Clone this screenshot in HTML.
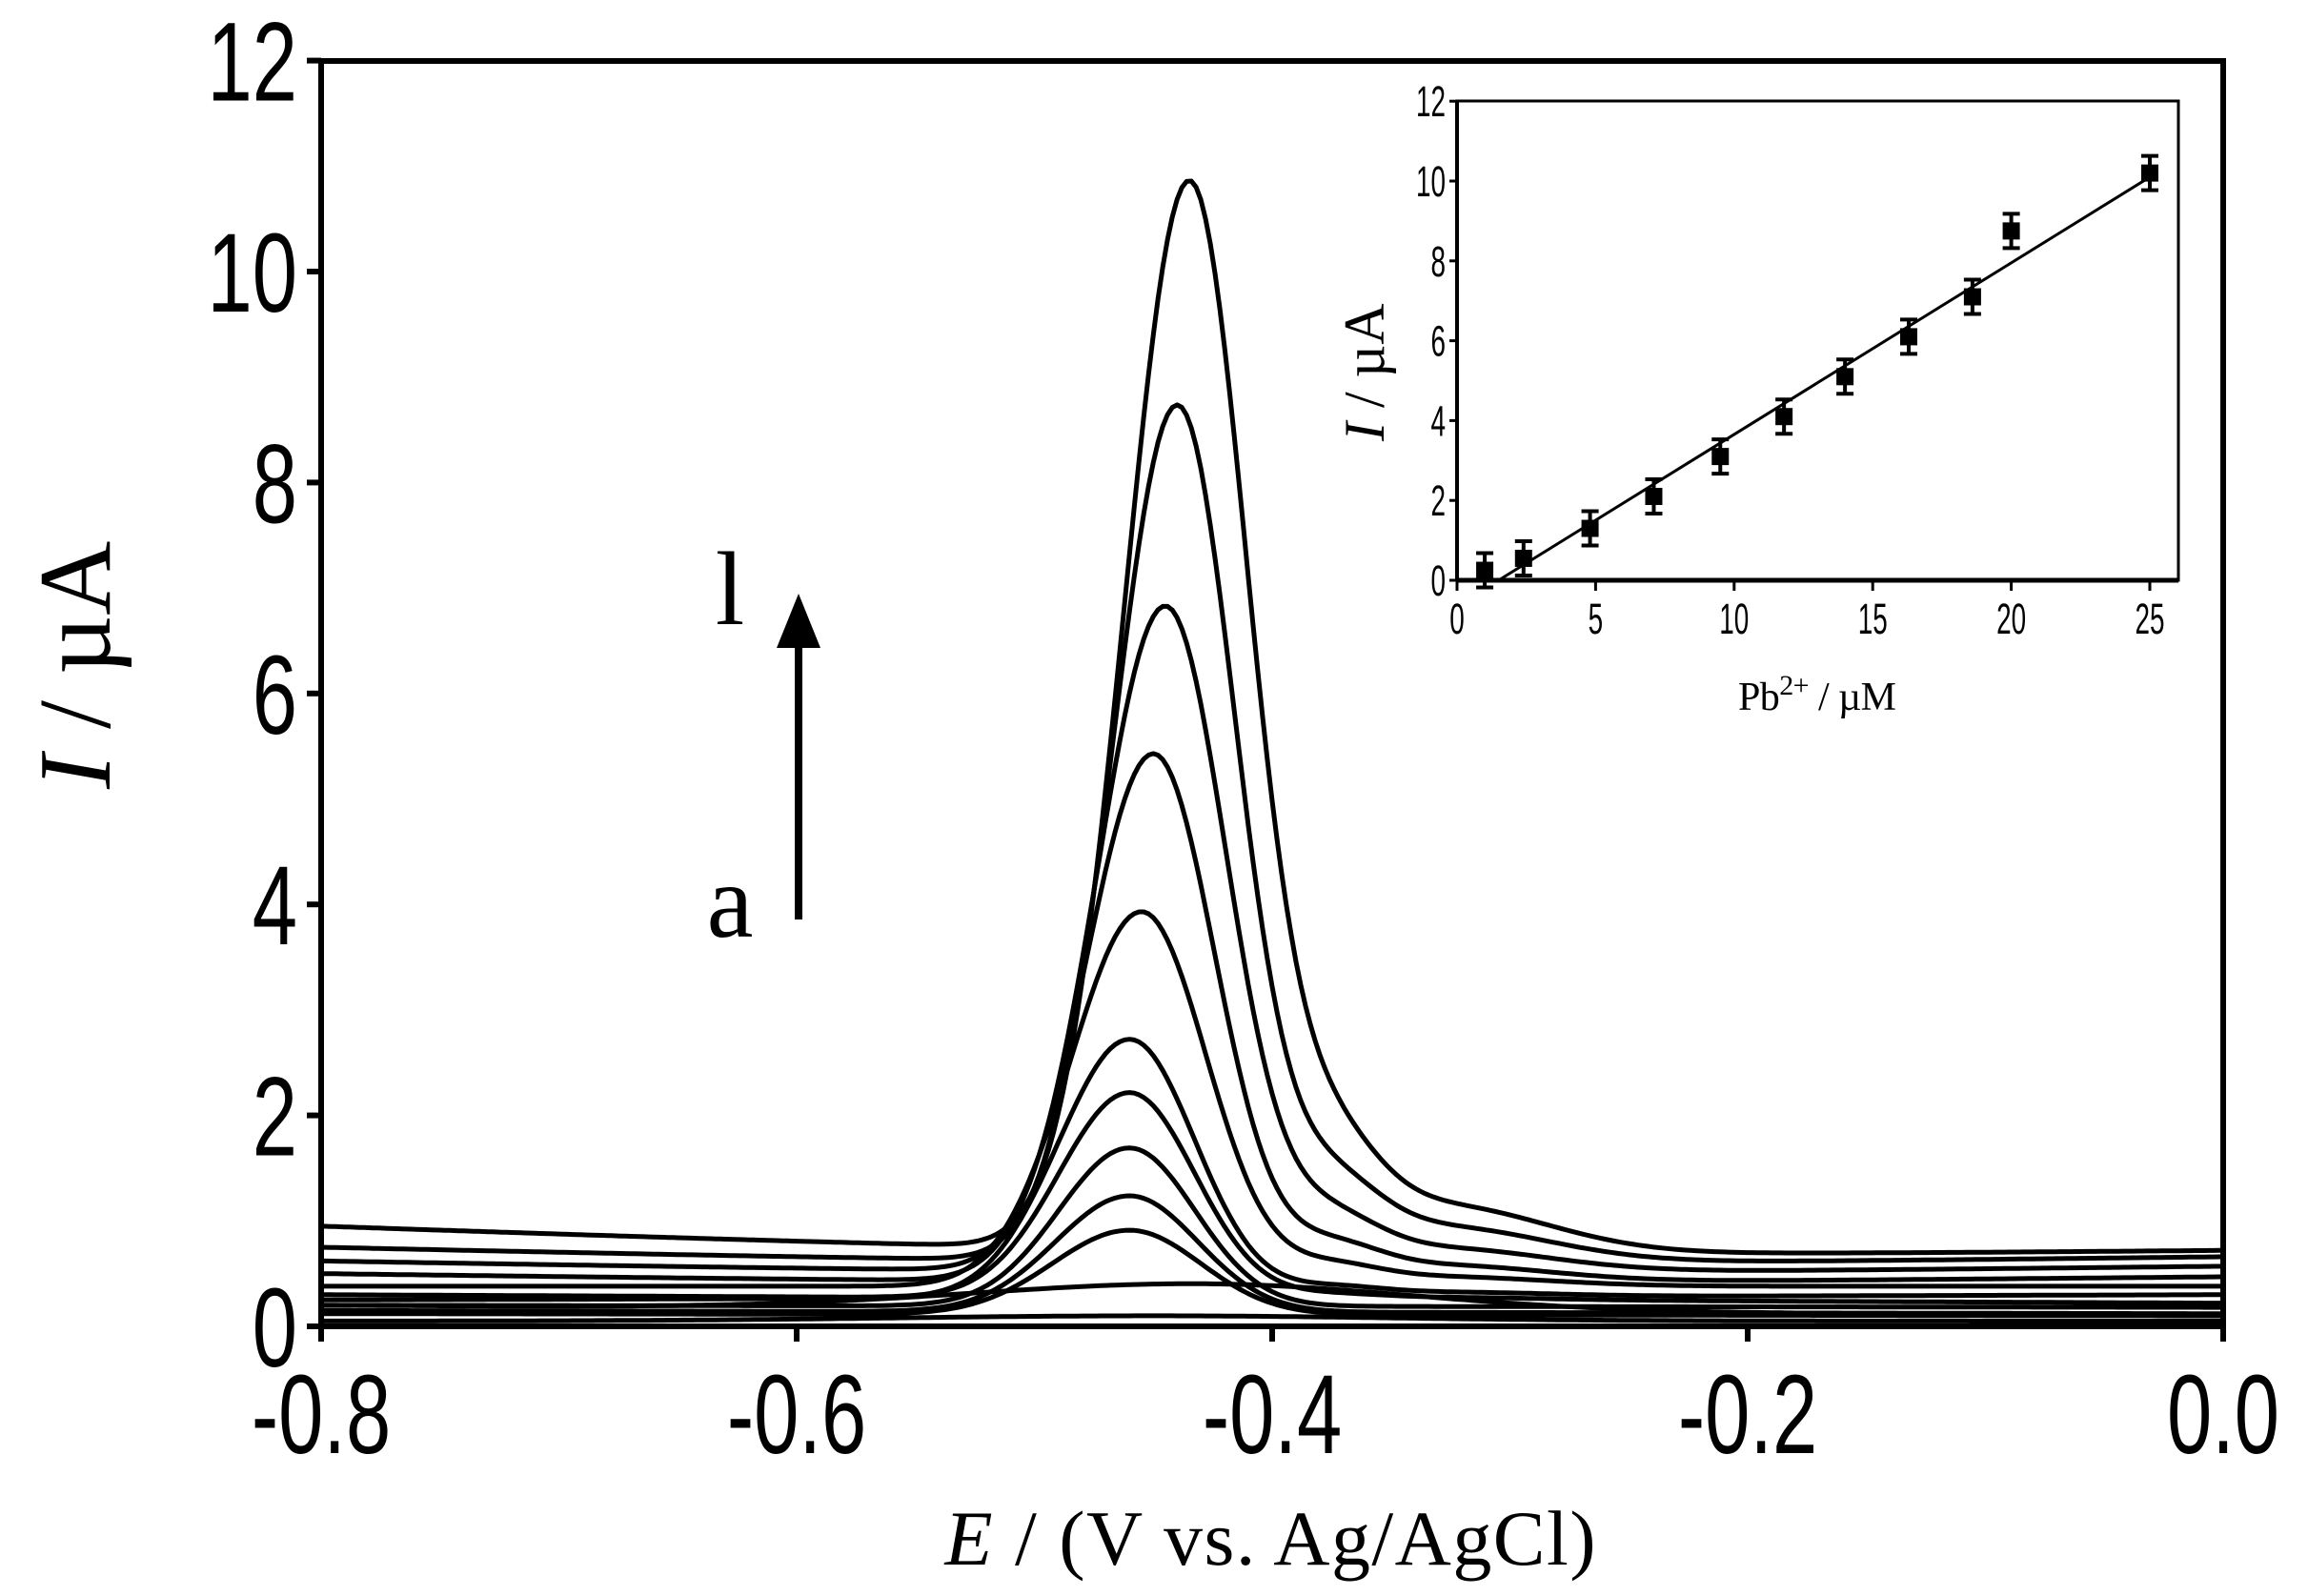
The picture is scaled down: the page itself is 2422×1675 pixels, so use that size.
<!DOCTYPE html>
<html><head><meta charset="utf-8"><style>
html,body{margin:0;padding:0;background:#fff;}
svg{display:block;}
</style></head><body>
<svg id="s" width="2422" height="1675" xmlns="http://www.w3.org/2000/svg">
<rect width="2422" height="1675" fill="#fff"/>
<g id="curves" fill="none" stroke="#000" stroke-width="5" stroke-linejoin="round"></g>
<rect x="337" y="64" width="1996" height="1328" fill="none" stroke="#000" stroke-width="6"/>
<g id="ticks" stroke="#000" stroke-width="6"></g>
<g id="labels" font-family="Liberation Sans, sans-serif" font-size="118" fill="#000"></g>
<text x="0" y="0" font-family="Liberation Serif, serif" font-size="108" transform="translate(115,828) rotate(-90)"><tspan font-style="italic">I</tspan> / µA</text>
<text x="1333" y="1642" text-anchor="middle" font-family="Liberation Serif, serif" font-size="82" textLength="683"><tspan font-style="italic">E</tspan> / (V vs. Ag/AgCl)</text>
<line x1="838" y1="965" x2="838" y2="670" stroke="#000" stroke-width="8"/>
<polygon points="838,623 815,680 861,680" fill="#000"/>
<text x="766" y="655" text-anchor="middle" font-family="Liberation Serif, serif" font-size="110">l</text>
<text x="766" y="983" text-anchor="middle" font-family="Liberation Serif, serif" font-size="110">a</text>
<rect x="1529" y="106" width="757" height="503" fill="#fff" stroke="#000" stroke-width="3"/>
<line x1="1529" y1="609" x2="2286" y2="609" stroke="#000" stroke-width="5"/>
<line x1="1529" y1="106" x2="1529" y2="609" stroke="#000" stroke-width="4"/>
<g id="iticks" stroke="#000" stroke-width="3"></g>
<g id="ilabels" font-family="Liberation Sans, sans-serif" font-size="45" fill="#000"></g>
<g id="ipts"></g>
<text transform="translate(1452,463) rotate(-90)" font-family="Liberation Serif, serif" font-size="60"><tspan font-style="italic">I</tspan> / µA</text>
<text x="1824" y="745" font-family="Liberation Serif, serif" font-size="42" textLength="166">Pb<tspan dy="-16" font-size="30">2+</tspan><tspan dy="16"> / µM</tspan></text>
</svg>
<script>
var NS="http://www.w3.org/2000/svg";
function el(p,t,a,txt){var e=document.createElementNS(NS,t);for(var k in a)e.setAttribute(k,a[k]);if(txt!==undefined)e.textContent=txt;document.getElementById(p).appendChild(e);return e;}
function X(v){return 337+(v+0.8)/0.8*1996;}
function Y(v){return 1392-v*110.7;}
for(var i=0;i<=12;i+=2){var y=Y(i);el('ticks','line',{x1:322,y1:y,x2:337,y2:y});
 el('labels','text',{x:0,y:0,'text-anchor':'end',transform:'translate(312,'+(y+42)+') scale(0.72,1)'},String(i));}
var xs=[-0.8,-0.6,-0.4,-0.2,0.0];
for(var j=0;j<xs.length;j++){var x=X(xs[j]);el('ticks','line',{x1:x,y1:1392,x2:x,y2:1408});
 el('labels','text',{x:0,y:0,'text-anchor':'middle',transform:'translate('+x+',1525) scale(0.72,1)'},xs[j].toFixed(1));}
var C=[[10.1,-0.435,1.0,0.95,0.72,1],[8.1,-0.44,1.0,0.75,0.66,0.75],[6.3,-0.445,1.05,0.62,0.57,0.5],[5.0,-0.45,1.05,0.5,0.47,0.35],
[3.55,-0.455,1.1,0.38,0.38,0.2],[2.45,-0.46,1.1,0.25,0.3,0.1],[1.95,-0.46,1.1,0.3,0.22,0.05],[1.5,-0.46,1.1,0.2,0.18,0],
[1.1,-0.46,1.15,0.15,0.12,0],[0.8,-0.46,1.2,0.12,0.1,0],[0.25,-0.43,3.5,0.2,0.1,0],[0.05,-0.45,4,0.05,0.05,0]];
for(var c=0;c<C.length;c++){var p=C[c],d='';
 for(var k=0;k<=400;k++){var e=-0.8+k*0.002;var t=(e+0.8)/0.8;
  var base=p[3]+(p[4]-p[3])*t - (c<4?0.12*Math.sin(Math.PI*t)*(p[3]/0.95):0);
  var dx=e-p[1];var s=(dx<0?0.027:0.025)*p[2];
  var v=base+p[0]*Math.exp(-dx*dx/(2*s*s));
  if(p[5])v+=p[5]*(0.75*Math.exp(-Math.pow(e+0.375,2)/(2*0.02*0.02))+0.45*Math.exp(-Math.pow(e+0.33,2)/(2*0.045*0.045)));
  d+=(k?'L':'M')+X(e).toFixed(1)+','+Y(v).toFixed(1);}
 el('curves','path',{d:d});}
function IX(v){return 1529+v*29.08;}function IY(v){return 609-v*41.9;}
for(var i=0;i<=12;i+=2){var y=IY(i);el('iticks','line',{x1:1521,y1:y,x2:1529,y2:y});
 el('ilabels','text',{x:0,y:0,'text-anchor':'end',transform:'translate(1517,'+(y+16)+') scale(0.62,1)'},String(i));}
for(var i=0;i<=25;i+=5){var x=IX(i);el('iticks','line',{x1:x,y1:609,x2:x,y2:620});
 el('ilabels','text',{x:0,y:0,'text-anchor':'middle',transform:'translate('+x+',665) scale(0.62,1)'},String(i));}
el('ipts','line',{x1:IX(1.5),y1:IY(0),x2:IX(25),y2:IY(10.1),stroke:'#000','stroke-width':3});
var P=[[1,0.25],[2.4,0.55],[4.8,1.3],[7.1,2.1],[9.5,3.1],[11.8,4.1],[14,5.1],[16.3,6.1],[18.6,7.1],[20,8.75],[25,10.2]];
for(var i=0;i<P.length;i++){var x=IX(P[i][0]),y=IY(P[i][1]),h=18;
 el('ipts','rect',{x:x-9,y:y-9,width:18,height:18,fill:'#000'});
 el('ipts','line',{x1:x,y1:y-h,x2:x,y2:y+h,stroke:'#000','stroke-width':4});
 el('ipts','line',{x1:x-9,y1:y-h,x2:x+9,y2:y-h,stroke:'#000','stroke-width':4});
 el('ipts','line',{x1:x-9,y1:y+h,x2:x+9,y2:y+h,stroke:'#000','stroke-width':4});}
</script>
</body></html>
